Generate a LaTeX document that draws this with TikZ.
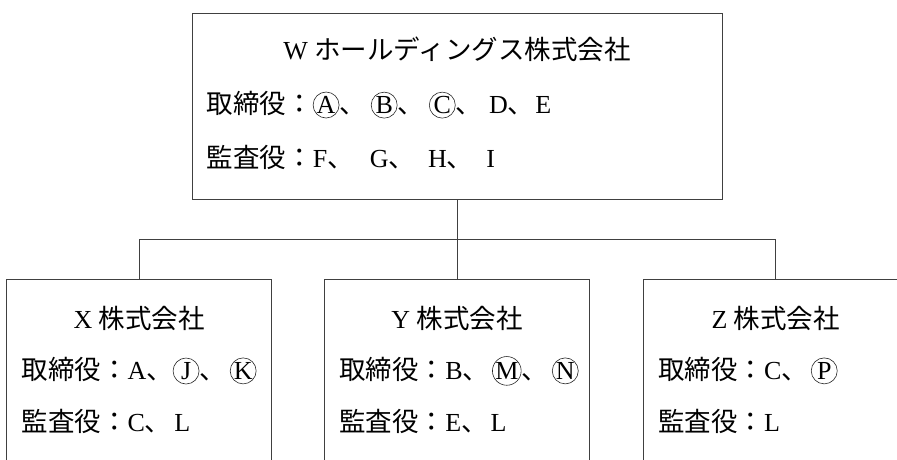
\documentclass[tikz,border=0pt]{standalone}
\usepackage{fontspec}
\setmainfont{Liberation Serif}
\newfontfamily\jpfont{Noto Sans CJK JP}
\usetikzlibrary{positioning}
\newcommand\jp[1]{{\jpfont\fontsize{26.5}{30}\selectfont #1}}
\newcommand\ten[1][3pt]{\jp{、}\kern#1}
\newcommand\maru[1]{\tikz[baseline=(m.base)]\node[circle,draw=black!85,line width=.6pt,
  inner sep=0pt,minimum size=26pt](m){#1};}
\tikzset{
  kaisha/.style={draw=black!75,line width=.8pt,minimum width=265pt,
                 minimum height=200pt,inner sep=0pt},
  honsha/.style={kaisha,minimum width=530pt,minimum height=186pt},
  namae/.style={anchor=base,inner sep=0pt},
  gyou/.style={anchor=base west,inner sep=0pt},
  link/.style={draw=black!75,line width=.8pt},
}

\begin{document}
\begin{tikzpicture}[x=1pt,y=-1pt,font=\fontsize{26}{30}\selectfont]
  \clip (0,0) rectangle (897,459);
  % holding company on top, three subsidiaries below
  \node[honsha] (hold) at (457,106) {};
  \node[kaisha,below=80pt of hold] (yco) {};
  \node[kaisha,left=52pt of yco] (xco) {};
  \node[kaisha,right=53pt of yco] (zco) {};

  \node[namae] (htitle) at ([shift={(0,47)}]hold.north)
    {W \jp{ホールディングス株式会社}};
  \node[gyou] (hdir) at ([shift={(15,101)}]hold.north west)
    {\jp{取締役：}\maru{A}\ten[5pt]\maru{B}\ten[5pt]\maru{C}\ten[7pt]D\ten[1pt]E};
  \node[gyou] (haud) at ([shift={(15,155)}]hold.north west)
    {\jp{監査役：}F\ten[16pt]G\ten[13pt]H\ten[13pt]I};

  \node[namae] (xtitle) at ([shift={(0,49)}]xco.north) {X \jp{株式会社}};
  \node[gyou] (xdir) at ([shift={(15,100)}]xco.north west)
    {\jp{取締役：}A\ten[0pt]\maru{J}\ten[4pt]\maru{K}};
  \node[gyou] (xaud) at ([shift={(15,152)}]xco.north west)
    {\jp{監査役：}C\ten L};

  \node[namae] (ytitle) at ([shift={(0,49)}]yco.north) {Y \jp{株式会社}};
  \node[gyou] (ydir) at ([shift={(15,100)}]yco.north west)
    {\jp{取締役：}B\ten\maru{M}\ten[4pt]\maru{N}};
  \node[gyou] (yaud) at ([shift={(15,152)}]yco.north west)
    {\jp{監査役：}E\ten L};

  \node[namae] (ztitle) at ([shift={(0,49)}]zco.north) {Z \jp{株式会社}};
  \node[gyou] (zdir) at ([shift={(15,100)}]zco.north west)
    {\jp{取締役：}C\ten\maru{P}};
  \node[gyou] (zaud) at ([shift={(15,152)}]zco.north west)
    {\jp{監査役：}L};

  % tree lines
  \path (hold.south) -- (yco.north) coordinate[midway] (bus);
  \draw[link] (hold.south) -- (yco.north);
  \draw[link] (xco.north) |- (bus) -| (zco.north);
\end{tikzpicture}
\end{document}
